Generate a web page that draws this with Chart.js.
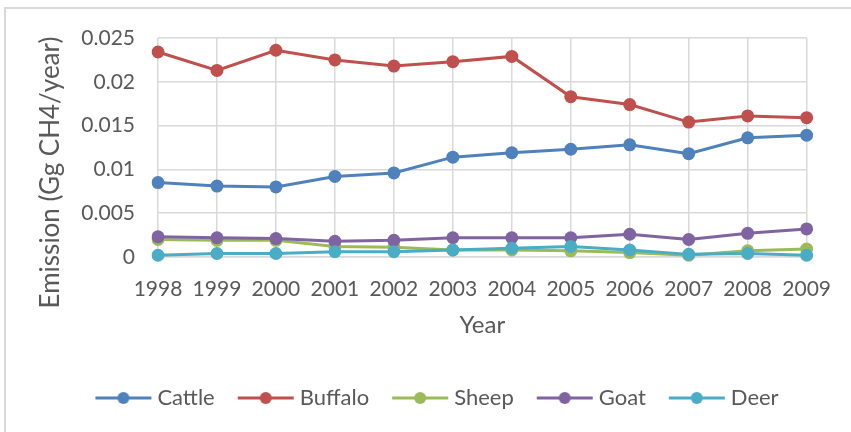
<!DOCTYPE html>
<html>
<head>
<meta charset="utf-8">
<script src="https://cdn.jsdelivr.net/npm/chart.js@4"></script>
<style>
  html,body{margin:0;padding:0;background:#fff;}
  #wrap{position:relative;width:851px;height:432px;overflow:hidden;}
  #frame{position:absolute;left:4px;top:7px;width:900px;height:500px;border-left:2px solid #d9d9d9;border-top:2px solid #d9d9d9;}
  #cvs{position:absolute;left:0;top:0;}
</style>
</head>
<body>
<div id="wrap"><div id="frame"></div><canvas id="cvs" width="851" height="432"></canvas></div>
<script>
/* ===== data ===== */
const years   = ['1998','1999','2000','2001','2002','2003','2004','2005','2006','2007','2008','2009'];
const cattle  = [0.0085,0.0081,0.0080,0.0092,0.0096,0.0114,0.0119,0.0123,0.0128,0.0118,0.0136,0.0139];
const buffalo = [0.0234,0.0213,0.0236,0.0225,0.0218,0.0223,0.0229,0.0183,0.0174,0.0154,0.0161,0.0159];
const sheep   = [0.0020,0.0019,0.0019,0.0012,0.0011,0.0008,0.0008,0.0007,0.0005,0.0002,0.0007,0.0009];
const goat    = [0.0023,0.0022,0.0021,0.0018,0.0019,0.0022,0.0022,0.0022,0.0026,0.0020,0.0027,0.0032];
const deer    = [0.0002,0.0004,0.0004,0.0006,0.0006,0.0008,0.0010,0.0012,0.0008,0.0003,0.0004,0.0002];
const yTicks  = [0,0.005,0.01,0.015,0.02,0.025];
const yTickLabels = ['0','0.005','0.01','0.015','0.02','0.025'];

const FONT = 'Lato', TXT = '#595959', GRID = '#d9d9d9';

// legend icon: line with a dot, like Excel
const mkIcon = col => {
  const c = document.createElement('canvas'); c.width = 58; c.height = 14;
  const x = c.getContext('2d');
  x.strokeStyle = col; x.lineWidth = 3;
  x.beginPath(); x.moveTo(1,7); x.lineTo(57,7); x.stroke();
  x.fillStyle = col; x.beginPath(); x.arc(29,7,6,0,Math.PI*2); x.fill();
  return c;
};

const mkLine = (label, d, col, ord) => ({
  label, data:d, order:ord,
  borderColor:col, backgroundColor:col, borderWidth:3,
  pointRadius:6.5, pointHoverRadius:6.5, pointBackgroundColor:col, pointBorderColor:col, pointBorderWidth:0,
  pointStyle: 'circle', tension:0, icon: mkIcon(col)
});

// nudge legend right and y title down (Excel centres them on the whole chart box)
const nudge = {id:'nudge', afterLayout(c){
  c.legend.left += 36; c.legend.right += 36;
  c.scales.y.bottom += 50;
}};

new Chart(document.getElementById('cvs'), {
  type:'line',
  data:{
    labels:years,
    datasets:[
      mkLine('Cattle',  cattle,  '#4F81BD', 4),
      mkLine('Buffalo', buffalo, '#C0504D', 3),
      mkLine('Sheep',   sheep,   '#9BBB59', 2),
      mkLine('Goat',    goat,    '#8064A2', 1),
      mkLine('Deer',    deer,    '#4BACC6', 0),
    ]
  },
  options:{
    responsive:false, animation:false,
    layout:{padding:{left:0,right:44,top:38,bottom:13}},
    plugins:{
      tooltip:{enabled:false},
      legend:{
        position:'bottom',
        labels:{
          usePointStyle:true, pointStyleWidth:46, padding:28,
          color:TXT, font:{family:FONT,size:22},
          sort:(a,b)=>a.datasetIndex-b.datasetIndex,
          generateLabels(c){
            return c.data.datasets.map((ds,i)=>({
              text:ds.label, datasetIndex:i, pointStyle:ds.icon,
              fillStyle:ds.borderColor, strokeStyle:ds.borderColor, lineWidth:0,
              fontColor:TXT, hidden:false
            }));
          }
        }
      }
    },
    scales:{
      x:{
        offset:false,
        grid:{color:GRID, lineWidth:1.5, drawTicks:false},
        border:{color:GRID, width:1.5},
        ticks:{color:TXT, font:{family:FONT,size:21}, padding:20, maxRotation:0, autoSkip:false},
        title:{display:true, text:'Year', color:TXT, font:{family:FONT,size:24}, padding:{top:0,bottom:19}},
        afterFit(s){ s.height = 102; }
      },
      y:{
        min:0, max:0.025,
        afterBuildTicks(s){ s.ticks = yTicks.map(v=>({value:v})); },
        grid:{color:GRID, lineWidth:1.5, drawTicks:false},
        border:{display:false},
        ticks:{color:TXT, font:{family:FONT,size:21}, padding:23,
               callback:v=>yTickLabels[yTicks.indexOf(v)] ?? ''},
        title:{display:true, text:'Emission (Gg CH4/year)', color:TXT, font:{family:FONT,size:26}, padding:{top:35,bottom:0}},
        afterFit(s){ s.width = 158; }
      }
    }
  },
  plugins:[nudge]
});
</script>
</body>
</html>
